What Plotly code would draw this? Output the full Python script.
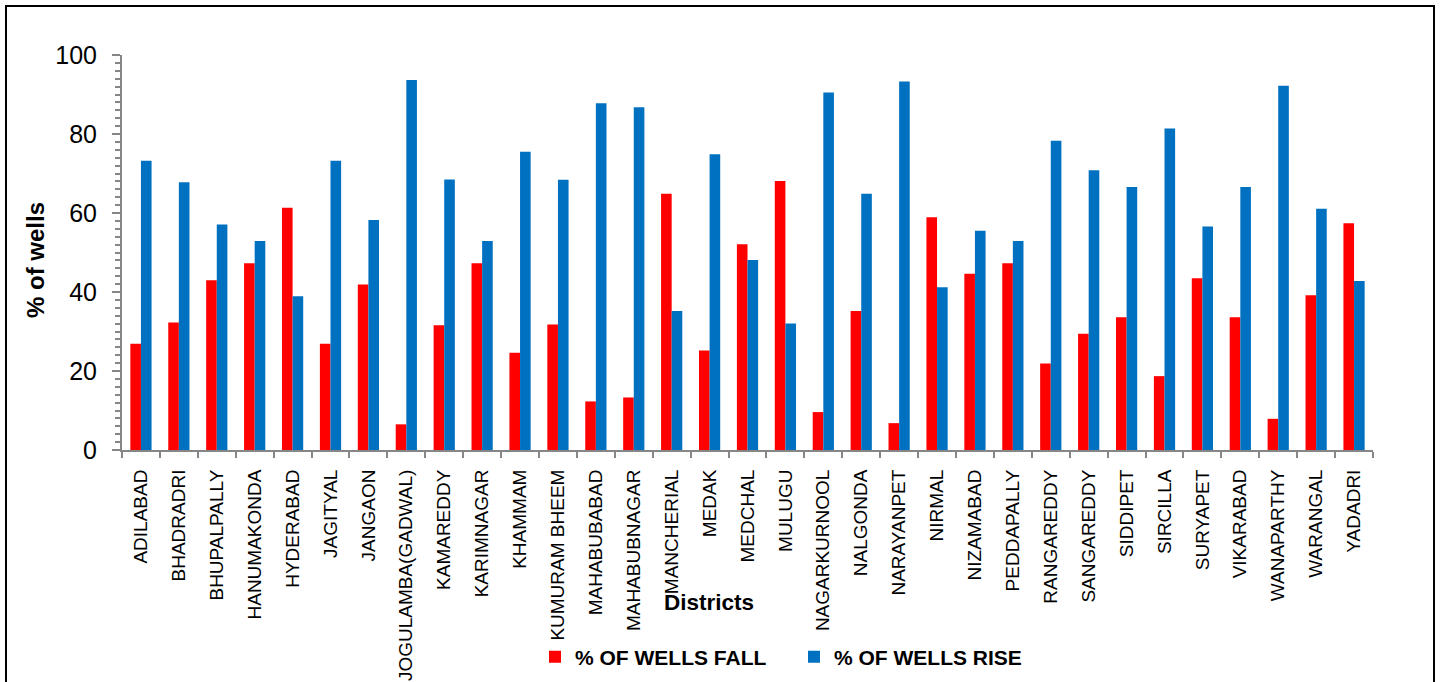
import plotly.graph_objects as go

districts = ["ADILABAD", "BHADRADRI", "BHUPALPALLY", "HANUMAKONDA", "HYDERABAD", "JAGITYAL",
             "JANGAON", "JOGULAMBA(GADWAL)", "KAMAREDDY", "KARIMNAGAR", "KHAMMAM", "KUMURAM BHEEM",
             "MAHABUBABAD", "MAHABUBNAGAR", "MANCHERIAL", "MEDAK", "MEDCHAL", "MULUGU",
             "NAGARKURNOOL", "NALGONDA", "NARAYANPET", "NIRMAL", "NIZAMABAD", "PEDDAPALLY",
             "RANGAREDDY", "SANGAREDDY", "SIDDIPET", "SIRCILLA", "SURYAPET", "VIKARABAD",
             "WANAPARTHY", "WARANGAL", "YADADRI"]

wells_fall = [26.9, 32.3, 43.0, 47.3, 61.3, 26.9, 41.9, 6.5, 31.6, 47.3, 24.6, 31.8,
              12.3, 13.3, 64.9, 25.2, 52.1, 68.1, 9.6, 35.2, 6.8, 58.9, 44.6, 47.3,
              21.9, 29.4, 33.6, 18.7, 43.5, 33.6, 7.9, 39.2, 57.4]
wells_rise = [73.2, 67.8, 57.1, 52.9, 38.9, 73.2, 58.2, 93.7, 68.5, 52.9, 75.5, 68.4,
              87.8, 86.8, 35.2, 74.9, 48.1, 32.0, 90.5, 64.9, 93.3, 41.2, 55.5, 52.9,
              78.3, 70.8, 66.6, 81.4, 56.6, 66.6, 92.2, 61.1, 42.8]

series_names = ["% OF WELLS FALL", "% OF WELLS RISE"]
colors = ["#FF0000", "#0070C0"]
y_ticks = [0, 20, 40, 60, 80, 100]

W, H = 1441, 682
L, R, T, B = 122, 68, 55, 232
pw, ph = W - L - R, H - T - B

def px(x):
    return (x - L) / pw

def py(y):
    return (H - B - y) / ph

font = "Liberation Sans"
fig = go.Figure()
for name, vals, c in zip(series_names, [wells_fall, wells_rise], colors):
    fig.add_trace(go.Bar(x=districts, y=vals, name=name, marker_color=c,
                         marker_line_width=0))

axis_color = "#868686"
fig.update_layout(
    width=W, height=H,
    margin=dict(l=L, r=R, t=T, b=B, autoexpand=False),
    plot_bgcolor="white", paper_bgcolor="white",
    barmode="group", bargap=0.44, bargroupgap=0.0,
    font=dict(family=font, color="black"),
    showlegend=True,
    legend=dict(orientation="h", xref="container", yref="container",
                x=535 / W, y=1 - 657 / H, xanchor="left", yanchor="middle",
                font=dict(family=font, size=21, color="black", weight="bold"),
                itemwidth=30, entrywidth=214, tracegroupgap=0, bgcolor="rgba(0,0,0,0)"),
    xaxis=dict(showline=True, linecolor=axis_color, linewidth=2, ticks="outside",
               tickson="boundaries", ticklen=6, tickcolor=axis_color, tickwidth=2,
               tickangle=-90, tickfont=dict(family=font, size=19, color="black"),
               showgrid=False, ticklabelstandoff=10, automargin=False),
    yaxis=dict(range=[0, 100], tickvals=y_ticks, showline=True, linecolor=axis_color, linewidth=2,
               ticks="outside", ticklen=8, tickcolor=axis_color, tickwidth=2,
               tickfont=dict(family=font, size=25, color="black"), showgrid=False,
               zeroline=False, ticklabelstandoff=10, automargin=False,
               minor=dict(dtick=2, ticks="outside", ticklen=5, tickcolor=axis_color, tickwidth=1.5,
                          showgrid=False)),
)

fig.add_annotation(text="<b>% of wells</b>", textangle=-90, x=px(35), y=py(260),
                   xref="paper", yref="paper", xanchor="center", yanchor="middle",
                   showarrow=False, font=dict(family=font, size=24, color="black"))
fig.add_annotation(text="<b>Districts</b>", x=px(709), y=py(602),
                   xref="paper", yref="paper", xanchor="center", yanchor="middle",
                   showarrow=False, font=dict(family=font, size=22.5, color="black"))

fig.add_shape(type="rect", xref="paper", yref="paper",
              x0=px(6), x1=px(1434), y0=py(700), y1=py(6),
              line=dict(color="black", width=2), fillcolor="rgba(0,0,0,0)", layer="below")

fig.write_html("out.html", config={"displayModeBar": False},
               post_script="document.body.style.margin='0';")
